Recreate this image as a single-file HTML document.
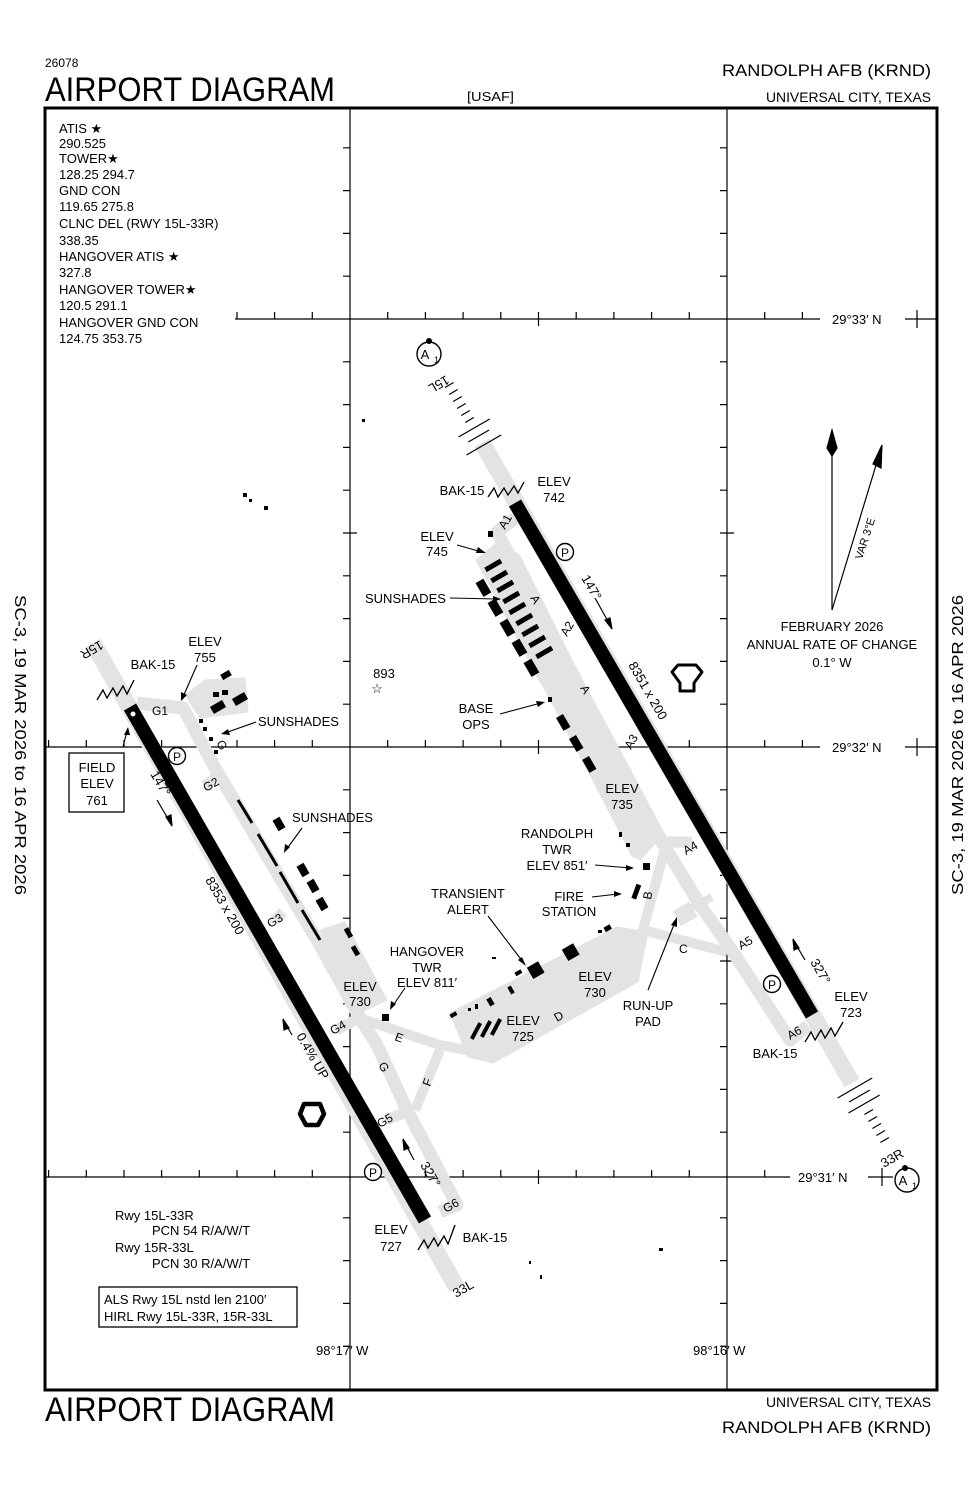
<!DOCTYPE html>
<html><head><meta charset="utf-8"><style>
html,body{margin:0;padding:0;background:#fff;}
svg{display:block;}
text{font-family:"Liberation Sans",sans-serif;fill:#000;}
.s{font-size:13px;}
.t{font-size:12px;}
</style></head><body>
<svg width="979" height="1500" viewBox="0 0 979 1500" xmlns="http://www.w3.org/2000/svg">
<!-- header -->
<text x="45" y="67" font-size="12">26078</text>
<text x="45" y="101" font-size="34" textLength="290" lengthAdjust="spacingAndGlyphs">AIRPORT DIAGRAM</text>
<text x="467" y="101" font-size="13" textLength="47" lengthAdjust="spacingAndGlyphs">[USAF]</text>
<text x="931" y="76" font-size="17" text-anchor="end" textLength="209" lengthAdjust="spacingAndGlyphs">RANDOLPH AFB  (KRND)</text>
<text x="931" y="102" font-size="14" text-anchor="end" textLength="165" lengthAdjust="spacingAndGlyphs">UNIVERSAL CITY, TEXAS</text>
<!-- footer -->
<text x="45" y="1421" font-size="34" textLength="290" lengthAdjust="spacingAndGlyphs">AIRPORT DIAGRAM</text>
<text x="931" y="1407" font-size="14" text-anchor="end" textLength="165" lengthAdjust="spacingAndGlyphs">UNIVERSAL CITY, TEXAS</text>
<text x="931" y="1433" font-size="17" text-anchor="end" textLength="209" lengthAdjust="spacingAndGlyphs">RANDOLPH AFB  (KRND)</text>
<!-- side text -->
<text transform="translate(15,745) rotate(90)" font-size="16" text-anchor="middle" textLength="300" lengthAdjust="spacingAndGlyphs">SC-3,  19 MAR 2026  to  16 APR 2026</text>
<text transform="translate(963,745) rotate(-90)" font-size="16" text-anchor="middle" textLength="300" lengthAdjust="spacingAndGlyphs">SC-3,  19 MAR 2026  to  16 APR 2026</text>

<!-- frame -->
<rect x="45" y="108" width="892" height="1282" fill="none" stroke="#000" stroke-width="3"/>

<!-- grid -->
<g stroke="#000" stroke-width="1.2" fill="none">
<line x1="350" y1="108" x2="350" y2="1390"/>
<line x1="727" y1="108" x2="727" y2="1390"/>
<line x1="235" y1="319" x2="820" y2="319"/>
<line x1="905" y1="319" x2="937" y2="319"/>
<line x1="45" y1="747" x2="820" y2="747"/>
<line x1="905" y1="747" x2="937" y2="747"/>
<line x1="45" y1="1177" x2="790" y2="1177"/>
<line x1="868" y1="1177" x2="893" y2="1177"/>
<path d="M343 147.8h7M343 190.6h7M343 233.4h7M343 276.2h7M343 361.8h7M343 404.6h7M343 447.4h7M343 490.2h7M343 533h14M343 575.8h7M343 618.6h7M343 661.4h7M343 704.2h7M343 789.8h7M343 832.6h7M343 875.4h7M343 918.2h7M343 961h14M343 1003.8h7M343 1046.6h7M343 1089.4h7M343 1132.2h7M343 1217.8h7M343 1260.6h7M343 1303.4h7M343 1346.2h7"/>
<path d="M720 147.8h7M720 190.6h7M720 233.4h7M720 276.2h7M720 361.8h7M720 404.6h7M720 447.4h7M720 490.2h7M720 533h14M720 575.8h7M720 618.6h7M720 661.4h7M720 704.2h7M720 789.8h7M720 832.6h7M720 875.4h7M720 918.2h7M720 961h14M720 1003.8h7M720 1046.6h7M720 1089.4h7M720 1132.2h7M720 1217.8h7M720 1260.6h7M720 1303.4h7M720 1346.2h7"/>
<path d="M237 319v-7M274.6 319v-7M312.3 319v-7M387.7 319v-7M425.4 319v-7M463.1 319v-7M500.8 319v-7M538.5 312v14M576.2 319v-7M613.9 319v-7M651.6 319v-7M689.3 319v-7M764.7 319v-7M802.4 319v-7M917 310v18"/>
<path d="M48.6 747v-7M86.3 747v-7M124 747v-7M161.6 747v-7M199.3 747v-7M237 747v-7M274.6 747v-7M312.3 747v-7M387.7 747v-7M425.4 747v-7M463.1 747v-7M500.8 747v-7M538.5 740v14M576.2 747v-7M613.9 747v-7M651.6 747v-7M689.3 747v-7M764.7 747v-7M802.4 747v-7M917 738v18"/>
<path d="M48.6 1177v-7M86.3 1177v-7M124 1177v-7M161.6 1177v-7M199.3 1177v-7M237 1177v-7M274.6 1177v-7M312.3 1177v-7M387.7 1177v-7M425.4 1177v-7M463.1 1177v-7M500.8 1177v-7M538.5 1170v14M576.2 1177v-7M613.9 1177v-7M651.6 1177v-7M689.3 1177v-7M764.7 1177v-7M882 1168v18"/>
</g>
<text x="832" y="324" class="s">29°33′ N</text>
<text x="832" y="752" class="s">29°32′ N</text>
<text x="798" y="1182" class="s">29°31′ N</text>
<text x="316" y="1355" class="s">98°17′ W</text>
<text x="693" y="1355" class="s">98°16′ W</text>

<!-- frequencies -->
<g class="s">
<text x="59" y="133">ATIS ★</text>
<text x="59" y="148">290.525</text>
<text x="59" y="163">TOWER★</text>
<text x="59" y="179">128.25  294.7</text>
<text x="59" y="195">GND CON</text>
<text x="59" y="211">119.65  275.8</text>
<text x="59" y="228">CLNC DEL (RWY 15L-33R)</text>
<text x="59" y="245">338.35</text>
<text x="59" y="261">HANGOVER ATIS ★</text>
<text x="59" y="277">327.8</text>
<text x="59" y="294">HANGOVER TOWER★</text>
<text x="59" y="310">120.5  291.1</text>
<text x="59" y="327">HANGOVER GND CON</text>
<text x="59" y="343">124.75  353.75</text>
</g>

<!-- gray taxiways / aprons -->
<g fill="#e3e3e3" stroke="#e3e3e3" stroke-linejoin="round">
<line x1="482" y1="443" x2="852" y2="1083" stroke-width="17"/>
<line x1="93" y1="643" x2="457" y2="1288" stroke-width="17"/>
<polyline points="515,518 497,532 662,842 700,905 733,952 790,1040 808,1026" fill="none" stroke-width="13"/>
<polyline points="660,842 692,842" fill="none" stroke-width="11"/>
<polyline points="666,845 643,930 727,952" fill="none" stroke-width="10"/>
<polyline points="678,915 712,897" fill="none" stroke-width="8"/>
<rect x="676" y="906" width="18" height="16" transform="rotate(-30 685 914)"/>
<polygon points="476,560 500,540 520,556 600,716 660,838 640,860 632,856 590,775 545,690 540,682"/>
<polyline points="137,703 183,708 215,768 320,945 360,1018 377,1045 407,1110 457,1205 440,1212" fill="none" stroke-width="13"/>
<polyline points="215,778 205,786" fill="none" stroke-width="11"/>
<polyline points="283,912 275,920" fill="none" stroke-width="11"/>
<polyline points="360,1018 336,1030" fill="none" stroke-width="11"/>
<polyline points="407,1112 385,1120" fill="none" stroke-width="11"/>
<polyline points="365,1020 440,1045 475,1052" fill="none" stroke-width="10"/>
<polyline points="440,1050 415,1110" fill="none" stroke-width="10"/>
<polygon points="185,695 205,680 245,678 248,712 200,718"/>
<polygon points="320,930 345,922 387,1000 362,1012"/>
<polygon points="450,1013 617,927 648,932 638,982 493,1063 468,1057"/>
</g>

<!-- runways -->
<line x1="515" y1="503" x2="812" y2="1015" stroke="#000" stroke-width="14"/>
<line x1="130" y1="707" x2="425" y2="1220" stroke="#000" stroke-width="14"/>
<circle cx="133" cy="714" r="2.5" fill="#fff"/>

<!-- approach lights -->
<g stroke="#000" stroke-width="1.2">
<line x1="453.6" y1="382.5" x2="445" y2="387.5"/><line x1="457.7" y1="389.5" x2="449.1" y2="394.5"/>
<line x1="461.7" y1="396.5" x2="453.1" y2="401.5"/><line x1="465.7" y1="403.5" x2="457.1" y2="408.5"/>
<line x1="469.8" y1="410.5" x2="461.2" y2="415.5"/><line x1="473.8" y1="417.5" x2="465.2" y2="422.5"/>
<line x1="489.7" y1="419" x2="458.5" y2="437"/><line x1="489.1" y1="430" x2="468.3" y2="442"/>
<line x1="501.1" y1="435" x2="466.5" y2="455"/>
<line x1="872.2" y1="1078" x2="837.6" y2="1098"/><line x1="869.9" y1="1090" x2="849.1" y2="1102"/>
<line x1="879.7" y1="1095" x2="848.5" y2="1113"/>
<line x1="873" y1="1109.5" x2="864.4" y2="1114.5"/><line x1="877" y1="1116.5" x2="868.4" y2="1121.5"/>
<line x1="881" y1="1123.5" x2="872.4" y2="1128.5"/><line x1="885" y1="1130.5" x2="876.4" y2="1135.5"/>
<line x1="889" y1="1137.5" x2="880.4" y2="1142.5"/>
</g>

<!-- BAK-15 zigzags -->
<g fill="none" stroke="#000" stroke-width="1.3">
<polyline points="488,497 494,488 498,497 504,488 508,495 514,486 518,493 524,482"/>
<polyline points="97,700 103,690 107,698 113,688 117,696 123,686 127,694 134,680"/>
<polyline points="805,1042 811,1032 815,1040 821,1030 825,1038 831,1028 835,1036 843,1022"/>
<polyline points="418,1250 424,1240 428,1248 434,1238 438,1246 444,1236 448,1244 455,1225"/>
</g>

<!-- buildings -->
<g fill="#000">
<rect x="484" y="563" width="18" height="5" transform="rotate(-30 493 565)"/>
<rect x="490" y="574" width="18" height="5" transform="rotate(-30 499 576)"/>
<rect x="496" y="584" width="18" height="5" transform="rotate(-30 505 586)"/>
<rect x="502" y="595" width="18" height="5" transform="rotate(-30 511 597)"/>
<rect x="508" y="606" width="18" height="5" transform="rotate(-30 517 608)"/>
<rect x="515" y="617" width="18" height="5" transform="rotate(-30 524 619)"/>
<rect x="521" y="628" width="18" height="5" transform="rotate(-30 530 630)"/>
<rect x="528" y="639" width="18" height="5" transform="rotate(-30 537 641)"/>
<rect x="535" y="650" width="18" height="5" transform="rotate(-30 544 652)"/>
<rect x="479" y="580" width="9" height="16" transform="rotate(-30 483 588)"/>
<rect x="491" y="600" width="9" height="16" transform="rotate(-30 495 608)"/>
<rect x="503" y="620" width="9" height="16" transform="rotate(-30 507 628)"/>
<rect x="515" y="640" width="9" height="16" transform="rotate(-30 519 648)"/>
<rect x="527" y="660" width="9" height="16" transform="rotate(-30 531 668)"/>
<rect x="488" y="531" width="5" height="6"/>
<rect x="548" y="697" width="4" height="5"/>
<rect x="559" y="715" width="8" height="15" transform="rotate(-30 563 722)"/>
<rect x="572" y="736" width="8" height="15" transform="rotate(-30 576 743)"/>
<rect x="585" y="757" width="8" height="15" transform="rotate(-30 589 764)"/>
<rect x="619" y="832" width="3" height="5"/><rect x="626" y="843" width="4" height="4"/>
<rect x="643" y="863" width="7" height="7"/>
<rect x="634" y="884" width="5" height="15" transform="rotate(20 636 891)"/>
<rect x="382" y="1014" width="7" height="7"/>
<rect x="529" y="964" width="13" height="13" transform="rotate(-30 535 970)"/>
<rect x="564" y="946" width="13" height="13" transform="rotate(-30 570 952)"/>
<rect x="515" y="971" width="7" height="4" transform="rotate(-30 518 973)"/>
<rect x="604" y="926" width="7" height="5" transform="rotate(-30 607 928)"/>
<rect x="598" y="930" width="4" height="3"/>
<rect x="509" y="986" width="4" height="8" transform="rotate(-30 511 990)"/>
<rect x="488" y="998" width="5" height="8" transform="rotate(-30 490 1002)"/>
<rect x="475" y="1004" width="3" height="5"/><rect x="468" y="1008" width="3" height="3"/>
<rect x="450" y="1013" width="7" height="4" transform="rotate(-30 453 1015)"/>
<rect x="474" y="1022" width="4" height="18" transform="rotate(28 476 1031)"/>
<rect x="484" y="1020" width="4" height="18" transform="rotate(28 486 1029)"/>
<rect x="494" y="1018" width="4" height="18" transform="rotate(28 496 1027)"/>
<rect x="221" y="672" width="10" height="6" transform="rotate(-30 226 675)"/>
<rect x="213" y="692" width="6" height="5"/><rect x="222" y="690" width="6" height="5"/>
<rect x="211" y="703" width="14" height="8" transform="rotate(-30 218 707)"/>
<rect x="233" y="695" width="14" height="8" transform="rotate(-30 240 699)"/>
<rect x="199" y="719" width="4" height="4"/><rect x="203" y="727" width="4" height="4"/>
<rect x="209" y="737" width="4" height="4"/><rect x="214" y="750" width="4" height="4"/>
<rect x="275" y="818" width="8" height="12" transform="rotate(-30 279 824)"/>
<rect x="299" y="864" width="8" height="12" transform="rotate(-30 303 870)"/>
<rect x="309" y="880" width="8" height="12" transform="rotate(-30 313 886)"/>
<rect x="318" y="898" width="8" height="12" transform="rotate(-30 322 904)"/>
<rect x="346" y="928" width="5" height="10" transform="rotate(-30 348 933)"/>
<rect x="353" y="946" width="5" height="10" transform="rotate(-30 355 951)"/>
<rect x="362" y="419" width="3" height="3"/>
<rect x="243" y="493" width="4" height="4"/><rect x="249" y="499" width="3" height="3"/><rect x="264" y="506" width="4" height="4"/>
<rect x="659" y="1248" width="4" height="3"/><rect x="529" y="1261" width="2" height="3"/><rect x="540" y="1275" width="2" height="4"/>
<rect x="492" y="957" width="4" height="2"/>
</g>
<g stroke="#000" stroke-width="3">
<line x1="238" y1="800" x2="252" y2="823"/><line x1="258" y1="834" x2="277" y2="866"/>
<line x1="280" y1="872" x2="298" y2="903"/><line x1="302" y1="910" x2="320" y2="940"/>
</g>

<!-- runway labels -->
<g class="s">
<text transform="translate(581,578) rotate(60)">147°</text>
<text transform="translate(628,665) rotate(60)">8351 x 200</text>
<text transform="translate(150,774) rotate(60)">147°</text>
<text transform="translate(205,880) rotate(60)">8353 x 200</text>
<text transform="translate(296,1036) rotate(60)">0.4% UP</text>
<text transform="translate(420,1165) rotate(60)">327°</text>
<text transform="translate(810,962) rotate(60)">327°</text>
<text transform="translate(446,375) rotate(150)">15L</text>
<text transform="translate(100,640) rotate(150)">15R</text>
<text transform="translate(884,1168) rotate(-30)">33R</text>
<text transform="translate(456,1298) rotate(-30)">33L</text>
</g>
<g stroke="#000" stroke-width="1.2" fill="#000">
<line x1="157" y1="800" x2="170" y2="822"/><polygon points="172,826 166,817 171,815"/>
<line x1="595" y1="598" x2="610" y2="625"/><polygon points="612,629 605,620 610,618"/>
<line x1="414" y1="1160" x2="405" y2="1143"/><polygon points="403,1139 409,1148 404,1150"/>
<line x1="805" y1="960" x2="795" y2="943"/><polygon points="793,939 799,948 794,950"/>
<line x1="292" y1="1035" x2="285" y2="1023"/><polygon points="283,1019 289,1028 284,1030"/>
</g>

<!-- taxi labels -->
<g class="t">
<text transform="translate(505,530) rotate(-60)">A1</text>
<text transform="translate(567,637) rotate(-60)">A2</text>
<text transform="translate(631,750) rotate(-60)">A3</text>
<text transform="translate(686,855) rotate(-30)">A4</text>
<text transform="translate(741,950) rotate(-30)">A5</text>
<text transform="translate(790,1040) rotate(-30)">A6</text>
<text transform="translate(530,598) rotate(60)">A</text>
<text transform="translate(580,688) rotate(60)">A</text>
<text transform="translate(651,900) rotate(-80)">B</text>
<text x="679" y="953">C</text>
<text transform="translate(557,1022) rotate(-30)">D</text>
<text transform="translate(394,1040) rotate(20)">E</text>
<text transform="translate(430,1087) rotate(-70)">F</text>
<text transform="translate(216,743) rotate(60)">G</text>
<text transform="translate(378,1065) rotate(60)">G</text>
<text x="152" y="715">G1</text>
<text transform="translate(206,792) rotate(-30)">G2</text>
<text transform="translate(270,928) rotate(-30)">G3</text>
<text transform="translate(333,1035) rotate(-30)">G4</text>
<text transform="translate(380,1128) rotate(-30)">G5</text>
<text transform="translate(446,1213) rotate(-30)">G6</text>
</g>

<!-- P circles & A1 -->
<g fill="#fff" stroke="#000" stroke-width="1.4">
<circle cx="565" cy="552" r="8.5"/><circle cx="177" cy="756" r="8.5"/>
<circle cx="772" cy="984" r="8.5"/><circle cx="373" cy="1172" r="8.5"/>
<circle cx="429" cy="354" r="12"/><circle cx="907" cy="1180" r="12"/>
</g>
<g class="t" text-anchor="middle">
<text x="565" y="557">P</text><text x="177" y="761">P</text><text x="772" y="989">P</text><text x="373" y="1177">P</text>
</g>
<text x="425" y="359" font-size="13" text-anchor="middle">A</text><text x="434" y="363" font-size="9">1</text>
<text x="903" y="1185" font-size="13" text-anchor="middle">A</text><text x="912" y="1189" font-size="9">1</text>
<circle cx="429" cy="341" r="3" fill="#000"/><circle cx="905" cy="1168" r="3" fill="#000"/>

<!-- labels -->
<g class="s" text-anchor="middle">
<text x="554" y="486">ELEV</text><text x="554" y="502">742</text>
<text x="462" y="495">BAK-15</text>
<text x="437" y="541">ELEV</text><text x="437" y="556">745</text>
<text x="476" y="713">BASE</text><text x="476" y="729">OPS</text>
<text x="622" y="793">ELEV</text><text x="622" y="809">735</text>
<text x="557" y="838">RANDOLPH</text><text x="557" y="854">TWR</text><text x="557" y="870">ELEV 851′</text>
<text x="569" y="901">FIRE</text><text x="569" y="916">STATION</text>
<text x="468" y="898">TRANSIENT</text><text x="468" y="914">ALERT</text>
<text x="427" y="956">HANGOVER</text><text x="427" y="972">TWR</text><text x="427" y="987">ELEV 811′</text>
<text x="595" y="981">ELEV</text><text x="595" y="997">730</text>
<text x="523" y="1025">ELEV</text><text x="523" y="1041">725</text>
<text x="360" y="991">ELEV</text><text x="360" y="1006">730</text>
<text x="648" y="1010">RUN-UP</text><text x="648" y="1026">PAD</text>
<text x="851" y="1001">ELEV</text><text x="851" y="1017">723</text>
<text x="775" y="1058">BAK-15</text>
<text x="205" y="646">ELEV</text><text x="205" y="662">755</text>
<text x="153" y="669">BAK-15</text>
<text x="391" y="1234">ELEV</text><text x="391" y="1251">727</text>
<text x="485" y="1242">BAK-15</text>
<text x="97" y="772">FIELD</text><text x="97" y="788">ELEV</text><text x="97" y="805">761</text>
<text x="384" y="678">893</text>
<text x="832" y="631">FEBRUARY 2026</text>
<text x="832" y="649">ANNUAL RATE OF CHANGE</text>
<text x="832" y="667">0.1° W</text>
</g>
<g class="s">
<text x="365" y="603">SUNSHADES</text>
<text x="258" y="726">SUNSHADES</text>
<text x="292" y="822">SUNSHADES</text>
</g>
<text x="377" y="693" font-size="13" text-anchor="middle">☆</text>
<rect x="69" y="753" width="55" height="59" fill="none" stroke="#000" stroke-width="1.3"/>

<!-- pointer arrows -->
<g stroke="#000" stroke-width="1.1" fill="none">
<line x1="457" y1="545" x2="482" y2="552"/>
<line x1="450" y1="598" x2="497" y2="599"/>
<line x1="500" y1="714" x2="541" y2="703"/>
<line x1="595" y1="865" x2="630" y2="868"/>
<line x1="592" y1="897" x2="618" y2="894"/>
<line x1="488" y1="916" x2="523" y2="962"/>
<line x1="405" y1="988" x2="392" y2="1007"/>
<line x1="648" y1="990" x2="675" y2="922"/>
<line x1="197" y1="665" x2="183" y2="697"/>
<line x1="256" y1="722" x2="225" y2="733"/>
<line x1="302" y1="828" x2="286" y2="850"/>
<line x1="123" y1="747" x2="127" y2="731"/>
</g>
<g fill="#000">
<polygon points="486,553 478,547 476,553"/>
<polygon points="501,599 493,596 493,602"/>
<polygon points="545,702 536,701 538,707"/>
<polygon points="634,868 626,865 626,871"/>
<polygon points="622,894 614,891 614,897"/>
<polygon points="526,966 518,960 522,957"/>
<polygon points="390,1010 391,1001 396,1004"/>
<polygon points="677,917 671,925 677,927"/>
<polygon points="181,701 181,692 187,695"/>
<polygon points="221,734 228,729 230,735"/>
<polygon points="284,853 285,844 290,847"/>
<polygon points="128,727 124,735 130,735"/>
</g>

<!-- compass -->
<g stroke="#000" stroke-width="1.2" fill="#000">
<line x1="832" y1="610" x2="832" y2="455"/>
<polygon points="832,430 837,448 832,456 827,448"/>
<line x1="832" y1="610" x2="880" y2="452"/>
<polygon points="882,445 881,468 873,464"/>
</g>
<text transform="translate(862,560) rotate(-72)" font-size="11">VAR 3°E</text>

<!-- obstruction icons -->
<polygon points="672,672 678,665 696,665 702,672 694,683 694,691 680,691 680,683" fill="none" stroke="#000" stroke-width="3" stroke-linejoin="round"/>
<polygon points="304,1104 320,1104 324,1114 318,1125 306,1125 300,1114" fill="none" stroke="#000" stroke-width="4.5" stroke-linejoin="round"/>

<!-- notes -->
<g class="s">
<text x="115" y="1220">Rwy 15L-33R</text>
<text x="152" y="1235">PCN 54 R/A/W/T</text>
<text x="115" y="1252">Rwy 15R-33L</text>
<text x="152" y="1268">PCN 30 R/A/W/T</text>
<text x="104" y="1304">ALS Rwy 15L nstd len 2100′</text>
<text x="104" y="1321">HIRL Rwy 15L-33R, 15R-33L</text>
</g>
<rect x="99" y="1287" width="198" height="40" fill="none" stroke="#000" stroke-width="1.3"/>
</svg>
</body></html>
